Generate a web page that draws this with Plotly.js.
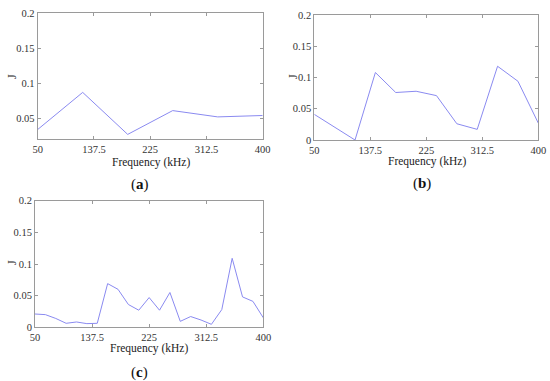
<!DOCTYPE html>
<html>
<head>
<meta charset="utf-8">
<script src="https://cdn.plot.ly/plotly-3.0.1.min.js"></script>
<style>html,body{margin:0;padding:0;background:#fff;}#chart{width:550px;height:381px;}</style>
</head>
<body>
<div id="chart"></div>
<script>
// Panel (a)
const freqA = [50, 120, 190, 260, 330, 400];
const jA = [0.034, 0.087, 0.027, 0.061, 0.052, 0.054];
// Panel (b)
const freqB = [50, 81.82, 113.64, 145.45, 177.27, 209.09, 240.91, 272.73, 304.55, 336.36, 368.18, 400];
const jB = [0.041, 0.021, 0.0, 0.108, 0.076, 0.078, 0.071, 0.026, 0.017, 0.118, 0.094, 0.027];
// Panel (c)
const freqC = [50, 65.91, 81.82, 97.73, 113.64, 129.55, 145.45, 161.36, 177.27, 193.18, 209.09, 225, 240.91, 256.82, 272.73, 288.64, 304.55, 320.45, 336.36, 352.27, 368.18, 384.09, 400];
const jC = [0.021, 0.020, 0.014, 0.0063, 0.0084, 0.0058, 0.0063, 0.069, 0.060, 0.036, 0.027, 0.047, 0.027, 0.055, 0.0094, 0.017, 0.0115, 0.0047, 0.028, 0.109, 0.048, 0.041, 0.015];

const xTicks = [50, 137.5, 225, 312.5, 400];
const xTickText = ['50', '137.5', '225', '312.5', '400'];
const yTicksA = [0.05, 0.1, 0.15, 0.2];
const yTickTextA = ['0.05', '0.1', '0.15', '0.2'];
const yTicks = [0, 0.05, 0.1, 0.15, 0.2];
const yTickText = ['0', '0.05', '0.1', '0.15', '0.2'];
const xTitle = 'Frequency (kHz)';
const yTitle = 'J';

const lineColor = '#8a8af0';
const font = 'Times New Roman';

const traces = [
  {x: freqA, y: jA, xaxis: 'x', yaxis: 'y', mode: 'lines', line: {color: lineColor, width: 1}},
  {x: freqB, y: jB, xaxis: 'x2', yaxis: 'y2', mode: 'lines', line: {color: lineColor, width: 1}},
  {x: freqC, y: jC, xaxis: 'x3', yaxis: 'y3', mode: 'lines', line: {color: lineColor, width: 1}}
];

function xax(domain, anchor) {
  return {domain: domain, anchor: anchor, range: [50, 400], tickvals: xTicks, ticktext: xTickText,
    showgrid: false, zeroline: false, showline: true, linecolor: '#9a9a9a', linewidth: 1, mirror: 'ticks',
    ticks: 'inside', ticklen: 3, tickcolor: '#9a9a9a', ticklabelstandoff: 0,
    tickfont: {family: font, size: 10.5, color: '#333'}};
}
function yax(domain, anchor, range, vals, text) {
  return {domain: domain, anchor: anchor, range: range, tickvals: vals, ticktext: text,
    showgrid: false, zeroline: false, showline: true, linecolor: '#9a9a9a', linewidth: 1, mirror: 'ticks',
    ticks: 'inside', ticklen: 3, tickcolor: '#9a9a9a', tickfont: {family: font, size: 10.5, color: '#333'}};
}

const ann = [];
function addTitles(cx, xy, jx, jy, px, py, lab) {
  ann.push({xref: 'paper', yref: 'paper', x: cx / 550, y: 1 - xy / 381, text: xTitle, showarrow: false,
    xanchor: 'center', yanchor: 'middle', font: {family: font, size: 11.5, color: '#222'}});
  ann.push({xref: 'paper', yref: 'paper', x: jx / 550, y: 1 - jy / 381, text: yTitle, showarrow: false, textangle: -90,
    xanchor: 'center', yanchor: 'middle', font: {family: font, size: 12, color: '#222'}});
  ann.push({xref: 'paper', yref: 'paper', x: px / 550, y: 1 - py / 381, text: '(<b>' + lab + '</b>)', showarrow: false,
    xanchor: 'center', yanchor: 'middle', font: {family: font, size: 15, color: '#111'}});
}
addTitles(151, 162.5, 12, 77, 140, 184, 'a');
addTitles(427, 161, 293, 77, 422, 183, 'b');
addTitles(149, 348.5, 12, 263, 140, 372, 'c');

const layout = {
  width: 550, height: 381, margin: {l: 0, r: 0, t: 0, b: 0},
  paper_bgcolor: '#fff', plot_bgcolor: '#fff', showlegend: false,
  xaxis: xax([37.7 / 550, 262.7 / 550], 'y'),
  yaxis: yax([1 - 139.3 / 381, 1 - 13.3 / 381], 'x', [0.02, 0.2], yTicksA, yTickTextA),
  xaxis2: xax([314.3 / 550, 538.3 / 550], 'y2'),
  yaxis2: yax([1 - 140 / 381, 1 - 15 / 381], 'x2', [0, 0.2], yTicks, yTickText),
  xaxis3: xax([35 / 550, 263.3 / 550], 'y3'),
  yaxis3: yax([1 - 327.3 / 381, 1 - 200.7 / 381], 'x3', [0, 0.2], yTicks, yTickText),
  annotations: ann
};

Plotly.newPlot('chart', traces, layout, {staticPlot: true, displayModeBar: false});
</script>
</body>
</html>
